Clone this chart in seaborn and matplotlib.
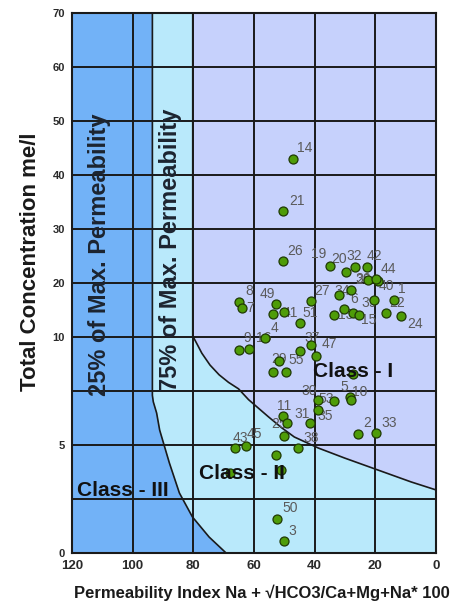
import numpy as np
import pandas as pd
import matplotlib
matplotlib.use("Agg")
import matplotlib.pyplot as plt
import seaborn as sns

# ---- sample data: permeability index (%) and total concentration (me/l) ----
perm_index = [47.3, 50.3, 50.3, 64.8, 63.8, 52.6, 53.6, 50.0, 45.0, 41.1,
              31.9, 27.9, 30.2, 33.5, 27.3, 25.3, 34.8, 29.6, 26.6, 22.7,
              22.4, 19.2, 19.9, 20.4, 13.8, 16.4, 11.5, 65.1, 61.5, 56.5,
              44.7, 41.1, 39.4, 51.6, 53.6, 49.6, 27.3, 38.8, 33.5, 28.2,
              27.9, 38.8, 41.7, 25.6, 19.7, 50.3, 49.0, 50.0, 45.4, 66.1,
              62.8, 52.9, 68.0, 51.0, 52.3, 50.0]
total_conc = [43.0, 33.3, 24.1, 16.5, 15.4, 16.1, 14.3, 14.6, 12.6, 16.7,
              17.8, 18.7, 15.2, 14.1, 14.4, 14.1, 23.1, 22.0, 23.0, 23.0,
              20.6, 20.4, 20.8, 16.9, 16.9, 14.4, 13.9, 9.40, 9.44, 9.95,
              9.35, 9.63, 9.12, 8.90, 8.38, 8.38, 8.29, 7.08, 7.04, 7.20,
              7.10, 6.62, 6.02, 5.51, 5.56, 6.34, 6.02, 5.42, 4.86, 4.86,
              4.95, 4.54, 3.70, 3.84, 1.57, 0.56]
sample_ids = ["14", "21", "26", "8", "7", "49", "41", "", "51", "27",
              "34", "28", "6", "13", "", "15", "19", "20", "32", "42",
              "36", "40", "44", "39", "1", "22", "24", "9", "16", "4",
              "", "37", "47", "", "29", "55", "", "30", "53", "5",
              "10", "35", "31", "2", "33", "11", "25", "", "38", "43",
              "45", "", "", "", "50", "3"]

# ---- class boundaries (Doneen) ----
class1_edge_x = [80.2, 80.2, 78.5, 77.2, 74.5, 71.5, 68.4, 65.1, 61.8, 58.5,
                 55.2, 50.9, 46.7, 42.5, 38.8, 30.2, 19.1, 8.2, 0.0, 0.0]
class1_edge_y = [70.0, 10.2, 9.60, 9.25, 8.70, 8.25, 7.90, 7.60, 7.10, 6.70,
                 6.30, 5.80, 5.37, 5.10, 4.86, 4.40, 3.84, 3.29, 2.92, 0.0]
class3_edge_x = [93.5, 93.5, 93.2, 92.1, 91.1, 87.9, 84.6, 80.3, 74.8, 69.2]
class3_edge_y = [70.0, 7.30, 7.00, 6.48, 5.69, 4.17, 2.78, 1.67, 0.74, 0.0]

x_ticks = [120, 100, 80, 60, 40, 20, 0]
y_ticks = [0, 2.5, 5, 7.5, 10, 20, 30, 40, 50, 60, 70]
y_tick_labels = ["0", "", "5", "", "10", "20", "30", "40", "50", "60", "70"]

df = pd.DataFrame({"pi": perm_index, "tc": total_conc, "id": sample_ids})

# label placement tweaks (pixels, right / up) around crowded points
label_offsets = {
    "14": (4, 7), "21": (6, 6), "8": (6, 7), "7": (4, -4), "49": (-17, 6),
    "41": (9, -3), "51": (3, 6), "27": (3, 6), "34": (-5, 0), "6": (6, 6),
    "13": (4, -4), "15": (2, -9), "19": (-19, 8), "20": (-15, 9),
    "32": (-9, 7), "42": (-1, 7), "36": (-13, -3), "40": (1, -9),
    "44": (5, 6), "39": (-13, -7), "1": (4, 7), "22": (3, 6), "24": (6, -12),
    "9": (5, 8), "16": (7, 7), "4": (6, 6), "37": (-7, 3), "47": (5, 8),
    "29": (-2, 9), "55": (3, 8), "30": (-17, 5), "53": (-16, -2),
    "5": (-10, 6), "10": (1, 4), "35": (-1, -10), "31": (-15, 5),
    "2": (5, 7), "33": (5, 6), "11": (-6, 6), "25": (-16, -5),
    "38": (5, 6), "43": (-3, 6), "45": (1, 8), "50": (5, 7), "3": (4, 6),
}

BLUE = "#72b2f7"
CYAN = "#b9e9fb"
LAVENDER = "#c6d1fc"
INK = "#1a1a1a"

sns.set_style("white")
plt.rcParams["font.family"] = ["Liberation Sans", "DejaVu Sans"]

W, H = 463, 605
fig = plt.figure(figsize=(W / 100, H / 100), dpi=100)
left, right, top, bottom = 72, 436, 13, 553
ax = fig.add_axes([left / W, 1 - bottom / H, (right - left) / W, (bottom - top) / H])


def fwd(v):
    v = np.asarray(v, dtype=float)
    return np.where(v <= 10, v / 2.5, 4 + (v - 10) / 10)


def inv(p):
    p = np.asarray(p, dtype=float)
    return np.where(p <= 4, p * 2.5, 10 + (p - 4) * 10)


ax.set_yscale("function", functions=(fwd, inv))
ax.set_xlim(120, 0)
ax.set_ylim(0, 70)
ax.set_facecolor(LAVENDER)

# class regions
ax.fill_betweenx(class1_edge_y, class1_edge_x, 120, color=CYAN, lw=0, zorder=1)
ax.fill_betweenx(class3_edge_y, class3_edge_x, 120, color=BLUE, lw=0, zorder=1.1)
ax.plot(class1_edge_x, class1_edge_y, color=INK, lw=1.2, zorder=2)
ax.plot(class3_edge_x, class3_edge_y, color=INK, lw=1.2, zorder=2)

# grid
ax.set_xticks(x_ticks)
ax.set_xticklabels([str(t) for t in x_ticks])
ax.set_yticks(y_ticks)
ax.set_yticklabels(y_tick_labels)
ax.yaxis.set_minor_locator(matplotlib.ticker.NullLocator())
ax.set_axisbelow(False)
ax.grid(True, color=INK, lw=1.4)
for s in ax.spines.values():
    s.set_color(INK)
    s.set_linewidth(1.5)
ax.tick_params(axis="x", length=0, pad=5, labelsize=9.5, labelcolor="#2a2a2a")
ax.tick_params(axis="y", length=4, width=1.2, color=INK, pad=1, labelsize=8,
               labelcolor="#2a2a2a")
for lab in ax.get_xticklabels() + ax.get_yticklabels():
    lab.set_fontweight("bold")

# samples
sns.scatterplot(data=df, x="pi", y="tc", ax=ax, s=42, color="#4e9c08",
                edgecolor="#1f3a04", linewidth=0.9, zorder=4, legend=False)
ax.set_xlabel("")
ax.set_ylabel("")

for xv, yv, sid in zip(perm_index, total_conc, sample_ids):
    if not sid:
        continue
    dx, dy = label_offsets.get(sid, (4, 6))
    ax.annotate(sid, (xv, yv), xytext=(dx, dy), textcoords="offset pixels",
                ha="left", va="baseline", fontsize=10, color="#5a5a5a", zorder=3)

# zone captions
band_kw = dict(rotation=90, ha="center", va="center", fontsize=17,
               fontweight="bold", color="#1c2430", zorder=5)
ax.text(110.8, 25.2, "25% of Max. Permeability", **band_kw)
ax.text(87.4, 26.1, "75% of Max. Permeability", **band_kw)
cls_kw = dict(ha="left", va="center", fontsize=15, fontweight="bold",
              color="#111111", zorder=5)
ax.text(40.5, 8.38, "Class - I", **cls_kw)
ax.text(78.0, 3.66, "Class - II", **cls_kw)
ax.text(118.3, 2.9, "Class - III", **cls_kw)

fig.text(30 / W, 1 - 262 / H, "Total Concentration me/l", rotation=90,
         ha="center", va="center", fontsize=16, fontweight="bold", color="#1a1a1a")
fig.text(262 / W, 1 - 593 / H, "Permeability Index Na + \u221aHCO3/Ca+Mg+Na* 100",
         ha="center", va="center", fontsize=12, fontweight="bold", color="#1a1a1a")

fig.savefig("out.png", dpi=100, facecolor="white")
